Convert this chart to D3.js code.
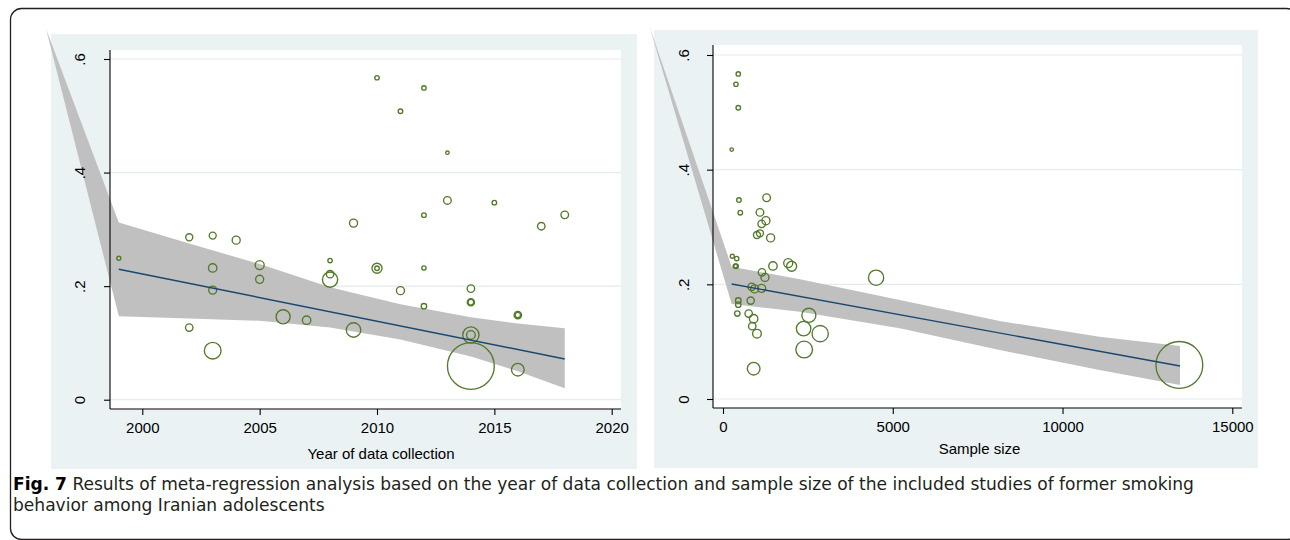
<!DOCTYPE html>
<html>
<head>
<meta charset="utf-8">
<script src="https://cdn.jsdelivr.net/npm/d3@7"></script>
<style>
  html, body { margin: 0; padding: 0; background: #ffffff; }
  svg { display: block; }
</style>
</head>
<body>
<svg id="fig" width="1290" height="540"></svg>
<script>
// Study-level estimates of former smoking prevalence among Iranian adolescents
const studyYear = [1999, 2002, 2002, 2003, 2003, 2003, 2003, 2004, 2005, 2005,
                   2006, 2007, 2008, 2008, 2008, 2009, 2009, 2010, 2010, 2010,
                   2011, 2011, 2012, 2012, 2012, 2012, 2013, 2013, 2014, 2014,
                   2014, 2014, 2014, 2014, 2015, 2016, 2016, 2016, 2017, 2018];
const prevalence = [0.249, 0.286, 0.127, 0.289, 0.232, 0.193, 0.0863, 0.281, 0.237, 0.212,
                    0.146, 0.140, 0.245, 0.221, 0.2115, 0.311, 0.1228, 0.567, 0.2315, 0.2315,
                    0.508, 0.192, 0.549, 0.325, 0.232, 0.1646, 0.435, 0.351, 0.1956, 0.1716,
                    0.1716, 0.114, 0.114, 0.0594, 0.347, 0.149, 0.149, 0.0529, 0.3055, 0.3255];
const sampleSize = [274, 1000, 862, 1088, 1471, 1138, 2391, 1403, 1921, 1235,
                    2529, 903, 403, 1147, 4509, 1265, 2374, 450, 2021, 385,
                    450, 932, 382, 509, 362, 450, 256, 1285, 844, 815,
                    450, 2862, 1000, 13441, 470, 756, 421, 903, 1138, 1088];
// Relative study weight (bubble area)
const studyWeight = [1.8, 5.4, 6.1, 5.4, 7.8, 7.1, 30.5, 7.1, 9.0, 7.1,
                     21.7, 7.8, 2.1, 6.1, 25.6, 7.1, 23.0, 2.1, 11.1, 2.3,
                     2.3, 7.1, 2.1, 2.3, 2.0, 3.2, 1.3, 6.4, 6.1, 5.7,
                     3.5, 29.1, 8.2, 240.6, 2.3, 6.1, 3.2, 17.6, 6.1, 6.4];

// Fitted meta-regression line and 95% confidence band: year of data collection
const fitYear = [1999, 2018];
const fitYearValue = [0.2298, 0.0717];
const bandYear = [1995.9, 1999, 2002, 2005, 2008, 2011, 2014, 2016, 2018];
const bandYearHi = [0.653, 0.312, 0.275, 0.239, 0.198, 0.168, 0.145, 0.134, 0.126];
const bandYearLo = [0.653, 0.147, 0.143, 0.139, 0.127, 0.106, 0.076, 0.050, 0.020];

// Fitted meta-regression line and 95% confidence band: sample size
const fitSize = [255, 13461];
const fitSizeValue = [0.2006, 0.0576];
const bandSize = [-2176, 255, 2265, 5206, 8147, 11088, 13461];
const bandSizeHi = [0.652, 0.2308, 0.2088, 0.1727, 0.136, 0.1087, 0.0924];
const bandSizeLo = [0.652, 0.1657, 0.1523, 0.1233, 0.0855, 0.0506, 0.0244];

// Axis ticks and titles
const yearTicks = [2000, 2005, 2010, 2015, 2020];
const sizeTicks = [0, 5000, 10000, 15000];
const propTicks = [0, 0.2, 0.4, 0.6];
const yearTitle = "Year of data collection";
const sizeTitle = "Sample size";
const captionLabel = "Fig. 7";
const captionLine1 = " Results of meta-regression analysis based on the year of data collection and sample size of the included studies of former smoking";
const captionLine2 = "behavior among Iranian adolescents";

const studies = studyYear.map((yr, i) => ({
  year: yr, p: prevalence[i], n: sampleSize[i], w: studyWeight[i]
}));

const svg = d3.select("#fig");
const FONT = "'Liberation Sans', Arial, Helvetica, sans-serif";
const COLORS = {
  region: "#eaf2f3", grid: "#e3ecef", band: "#c0c0c0",
  marker: "#53792b", fit: "#1a476f", axis: "#000000", text: "#000000"
};

const radius = d3.scaleSqrt().domain([0, d3.max(studyWeight)]).range([0, 23.4]);
const propFormat = d => d === 0 ? "0" : d3.format(".1f")(d).replace(/^0/, "");

// Outer frame of the figure
svg.append("rect")
  .attr("x", 10.5).attr("y", 8.5)
  .attr("width", 1287).attr("height", 531)
  .attr("rx", 11).attr("ry", 11)
  .attr("fill", "none").attr("stroke", "#231f20").attr("stroke-width", 1.3);

function panel(cfg) {
  const g = svg.append("g");
  const x = d3.scaleLinear().domain(cfg.xDomain).range(cfg.xRange);
  const y = d3.scaleLinear().domain([0, 0.6]).range(cfg.yRange);

  // graph region and plot region
  g.append("rect").attr("x", cfg.region[0]).attr("y", cfg.region[1])
    .attr("width", cfg.region[2]).attr("height", cfg.region[3]).attr("fill", COLORS.region);
  g.append("rect").attr("x", cfg.plot[0]).attr("y", cfg.plot[1])
    .attr("width", cfg.plot[2]).attr("height", cfg.plot[3]).attr("fill", "#ffffff");

  const px0 = cfg.plot[0], px1 = cfg.plot[0] + cfg.plot[2];
  const py0 = cfg.plot[1], py1 = cfg.plot[1] + cfg.plot[3];

  // horizontal grid
  g.append("g").selectAll("line").data(propTicks).join("line")
    .attr("x1", px0).attr("x2", px1)
    .attr("y1", d => y(d)).attr("y2", d => y(d))
    .attr("stroke", COLORS.grid).attr("stroke-width", 1.2);

  // confidence band
  const bandData = cfg.bandX.map((v, i) => ({ x: v, lo: cfg.bandLo[i], hi: cfg.bandHi[i] }));
  g.append("path").datum(bandData)
    .attr("d", d3.area().x(d => x(d.x)).y0(d => y(d.lo)).y1(d => y(d.hi)))
    .attr("fill", COLORS.band);

  // study bubbles
  g.append("g").selectAll("circle").data(studies).join("circle")
    .attr("cx", d => x(cfg.xOf(d)))
    .attr("cy", d => y(d.p))
    .attr("r", d => radius(d.w))
    .attr("fill", "none")
    .attr("stroke", COLORS.marker)
    .attr("stroke-width", 1.35);

  // fitted line
  const fitData = cfg.fitX.map((v, i) => ({ x: v, y: cfg.fitY[i] }));
  g.append("path").datum(fitData)
    .attr("d", d3.line().x(d => x(d.x)).y(d => y(d.y)))
    .attr("fill", "none").attr("stroke", COLORS.fit).attr("stroke-width", 1.4);

  // axes
  const xAxis = g.append("g").attr("transform", `translate(0,${py1})`)
    .call(d3.axisBottom(x).tickValues(cfg.xTicks).tickSize(6).tickSizeOuter(0).tickFormat(d3.format("d")));
  xAxis.select(".domain").remove();
  xAxis.append("line").attr("x1", px0).attr("x2", px1).attr("y1", 0).attr("y2", 0)
    .attr("stroke", COLORS.axis).attr("stroke-width", 1.1);
  xAxis.selectAll(".tick line").attr("stroke", COLORS.axis).attr("stroke-width", 1.1);
  xAxis.selectAll(".tick text")
    .attr("y", 24).attr("dy", 0)
    .attr("font-family", FONT).attr("font-size", 15).attr("fill", COLORS.text);

  const yAxis = g.append("g").attr("transform", `translate(${px0},0)`)
    .call(d3.axisLeft(y).tickValues(propTicks).tickSize(6).tickSizeOuter(0).tickFormat(propFormat));
  yAxis.select(".domain").remove();
  yAxis.append("line").attr("x1", 0).attr("x2", 0).attr("y1", py0).attr("y2", py1)
    .attr("stroke", COLORS.axis).attr("stroke-width", 1.1);
  yAxis.selectAll(".tick line").attr("stroke", COLORS.axis).attr("stroke-width", 1.1);
  yAxis.selectAll(".tick text")
    .attr("x", 0).attr("y", -cfg.yLabelGap).attr("dy", 0)
    .attr("text-anchor", "middle")
    .attr("transform", "rotate(-90)")
    .attr("font-family", FONT).attr("font-size", 15).attr("fill", COLORS.text);

  // axis title
  g.append("text").attr("x", cfg.title[1]).attr("y", cfg.title[2])
    .attr("text-anchor", "middle")
    .attr("font-family", FONT).attr("font-size", 15).attr("fill", COLORS.text)
    .text(cfg.title[0]);
}

panel({
  region: [51, 34, 586, 435],
  plot: [110, 50, 511, 359],
  xDomain: [2000, 2020], xRange: [142.3, 611.7],
  yRange: [399.7, 59],
  xTicks: yearTicks,
  xOf: d => d.year,
  bandX: bandYear, bandHi: bandYearHi, bandLo: bandYearLo,
  fitX: fitYear, fitY: fitYearValue,
  yLabelGap: 25,
  title: [yearTitle, 381, 459]
});

panel({
  region: [654, 30, 604, 438],
  plot: [713, 45, 529, 363],
  xDomain: [0, 15000], xRange: [723, 1232.3],
  yRange: [399, 55],
  xTicks: sizeTicks,
  xOf: d => d.n,
  bandX: bandSize, bandHi: bandSizeHi, bandLo: bandSizeLo,
  fitX: fitSize, fitY: fitSizeValue,
  yLabelGap: 24,
  title: [sizeTitle, 979.5, 454]
});

// Caption: the first line fills the full measure, the closing line
// uses the same horizontal scale.
const CAP_FONT = "'DejaVu Sans Condensed', 'Liberation Sans Narrow', 'Arial Narrow', sans-serif";
const CAP_LEFT = 13, CAP_WIDTH = 1182, CAP_SIZE = 17;

const cap1 = svg.append("text")
  .attr("x", 0).attr("y", 0)
  .attr("font-family", CAP_FONT).attr("font-size", CAP_SIZE)
  .attr("fill", "#231f20");
cap1.append("tspan").attr("font-weight", "bold").attr("fill", "#000000").text(captionLabel);
cap1.append("tspan").text(captionLine1);
const squeeze = CAP_WIDTH / cap1.node().getComputedTextLength();
cap1.attr("transform", `translate(${CAP_LEFT},490) scale(${squeeze},1)`);

svg.append("text")
  .attr("x", 0).attr("y", 0)
  .attr("font-family", CAP_FONT).attr("font-size", CAP_SIZE)
  .attr("fill", "#231f20")
  .attr("transform", `translate(${CAP_LEFT},511) scale(${squeeze},1)`)
  .text(captionLine2);
</script>
</body>
</html>
